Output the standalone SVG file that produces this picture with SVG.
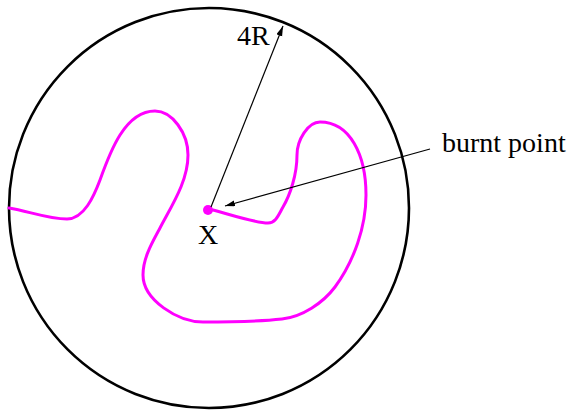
<svg xmlns="http://www.w3.org/2000/svg" width="572" height="410" viewBox="0 0 572 410">
  <style>
    .label { font-family: "Liberation Serif", "Times New Roman", serif; font-size: 28px; fill: #000; }
    .conn { stroke: #000; stroke-width: 1.2; fill: none; }
    .path { stroke: #ff00ff; stroke-width: 3; fill: none; stroke-linecap: round; stroke-linejoin: round; }
  </style>
  <defs>
    <marker id="arrow" markerUnits="userSpaceOnUse" markerWidth="12" markerHeight="8" refX="10" refY="3" orient="auto">
      <path d="M0,0 L10,3 L0,6 Z" fill="#000"/>
    </marker>
  </defs>
  <rect width="572" height="410" fill="#fff"/>
  <g id="boundary">
    <circle cx="209" cy="208" r="200" fill="none" stroke="#000" stroke-width="2.6"/>
  </g>
  <g id="burnt-path">
    <path class="path" d="M9,208 C28,211 48,219 67,219 C84,219 94,196 100,180 C110,152 125,111 155,111 C172,111 188,133 188,155 C188,181 172,205 160,228 C152,243 143,258 143,275 C143,300 178,322 203,322 C228,322 255,322 282,319 C302,317 323,303 335,287 C354,261 366,227 366,195 C366,155 350,122 320,122 C308,122 297,140 297,155 C297,175 290,195 283,207 C279,214 276,223 268,223 C255,223 225,213 213,210"/>
    <circle cx="208" cy="210" r="5" fill="#ff00ff"/>
  </g>
  <g id="connectors">
    <line class="conn" x1="211" y1="207" x2="283" y2="26" marker-end="url(#arrow)"/>
    <line class="conn" x1="430" y1="149" x2="225" y2="206" marker-end="url(#arrow)"/>
  </g>
  <g id="label-4R">
    <text class="label" x="237" y="45">4R</text>
  </g>
  <g id="label-X">
    <text class="label" x="208" y="244" text-anchor="middle">X</text>
  </g>
  <g id="label-burnt-point">
    <text class="label" x="442" y="152">burnt point</text>
  </g>
</svg>
